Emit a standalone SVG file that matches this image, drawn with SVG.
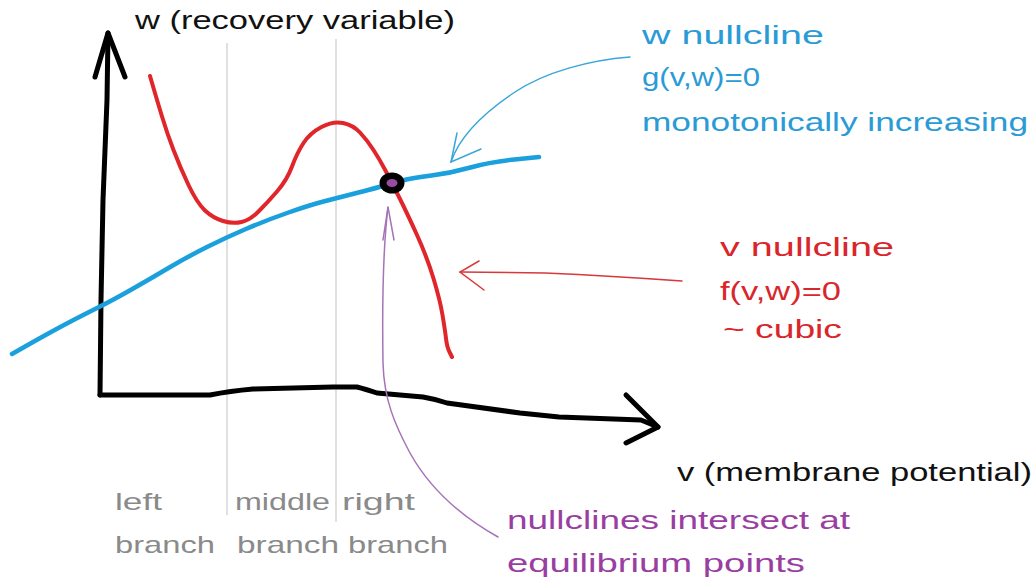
<svg xmlns="http://www.w3.org/2000/svg" width="1034" height="586" viewBox="0 0 1034 586">
<style>
text{font-family:"Liberation Sans","DejaVu Sans",sans-serif;font-size:25px}
.k{fill:#111}.b{fill:#2a9bd6}.r{fill:#d9262b}.p{fill:#9a3fa2}.g{fill:#8a8a8a;font-size:24px}
.axis{fill:none;stroke:#000;stroke-width:5;stroke-linecap:round;stroke-linejoin:round}
.guide{fill:none;stroke:#cfcfcf;stroke-width:1.3}
.red{fill:none;stroke:#e0262a;stroke-width:4;stroke-linecap:round;stroke-linejoin:round}
.blue{fill:none;stroke:#1aa0dc;stroke-width:4.5;stroke-linecap:round;stroke-linejoin:round}
.thinb{fill:none;stroke:#3aa6da;stroke-width:1.5;stroke-linecap:round}
.thinr{fill:none;stroke:#d9383a;stroke-width:1.5;stroke-linecap:round}
.thinp{fill:none;stroke:#a672b8;stroke-width:1.5;stroke-linecap:round}
</style>
<g id="guides">
<line class="guide" x1="227" y1="43" x2="227" y2="515"/>
<line class="guide" x1="336" y1="39" x2="336" y2="522"/>
</g>
<g id="axes">
<path class="axis" d="M100,395 L101,300 L103,200 L107,100 L108,33"/>
<path class="axis" d="M95,77 L108,33 L125,77"/>
<path class="axis" d="M100,395 L210,395 Q230,391 253,389 L333,387 L357,387 Q365,389 377,393 L423,397 Q435,399 447,403 L520,413 L559,417 L641,420 L658,427"/>
<path class="axis" d="M626,395 L658,427 L626,443"/>
</g>
<g id="w-nullcline">
<path class="blue" d="M12,354 L22.5,348 Q33,342 46.5,334.5 Q60,327 73.5,320 Q87,313 100,306.5 Q113,300 131.5,289.5 Q150,279 168.5,268 Q187,257 207,247 Q227,237 247,228.5 Q267,220 288.5,212.5 Q310,205 323.5,201.5 Q337,198 358.5,192.5 Q380,187 386,185 Q392,183 402,180.5 Q412,178 431.5,175.5 Q451,173 470.5,167.5 Q490,162 514.5,159.5 L539,157"/>
</g>
<g id="v-nullcline">
<path class="red" d="M150,76 L153.5,88 Q157,100 162,116.5 Q167,133 173.5,150 Q180,167 188.5,185 Q197,203 205,210.5 Q213,218 223,221 Q233,224 241.5,222 Q250,220 258.5,211.5 Q267,203 277,191.5 Q287,180 292,166.5 Q297,153 303.5,143 Q310,133 321.5,127 Q333,121 343,123 Q353,125 360,132.5 Q367,140 373.5,150 Q380,160 386,171.5 Q392,183 399.5,198 Q407,213 417,235 Q427,257 433.5,278.5 Q440,300 442.5,315 Q445,330 446,338.5 Q447,347 449.5,352 L452,357"/>
</g>
<g id="equilibrium">
<ellipse cx="392" cy="183" rx="12.5" ry="10.5" fill="#000"/>
<ellipse cx="392" cy="183" rx="5.5" ry="4" fill="#9b4aa6"/>
</g>
<g id="connectors">
<path class="thinb" d="M630,57 C590,60 545,72 515,92 C485,112 460,135 451,162"/>
<path class="thinb" d="M457,133 L451,162 L481,149"/>
<path class="thinr" d="M682,281 C640,278 590,275 545,273 L460,272"/>
<path class="thinr" d="M479,261 L460,272 L484,290"/>
<path class="thinp" d="M388,207 C384,240 382,300 383,363 C384,400 395,425 410,453 C425,480 450,510 498,537"/>
<path class="thinp" d="M383,240 L388,207 L394,240"/>
</g>
<g id="labels">
<text class="k" x="135" y="29" textLength="320" lengthAdjust="spacingAndGlyphs">w (recovery variable)</text>
<text class="b" x="642" y="44" textLength="182" lengthAdjust="spacingAndGlyphs">w nullcline</text>
<text class="b" x="642" y="86" textLength="118" lengthAdjust="spacingAndGlyphs">g(v,w)=0</text>
<text class="b" x="642" y="131" textLength="386" lengthAdjust="spacingAndGlyphs">monotonically increasing</text>
<text class="r" x="720" y="256" textLength="174" lengthAdjust="spacingAndGlyphs">v nullcline</text>
<text class="r" x="720" y="300" textLength="121" lengthAdjust="spacingAndGlyphs">f(v,w)=0</text>
<text class="r" x="723" y="338" textLength="119" lengthAdjust="spacingAndGlyphs">~ cubic</text>
<text class="k" x="677" y="481" textLength="355" lengthAdjust="spacingAndGlyphs">v (membrane potential)</text>
<text class="g" x="115" y="510" textLength="47" lengthAdjust="spacingAndGlyphs">left</text>
<text class="g" x="115" y="553" textLength="100" lengthAdjust="spacingAndGlyphs">branch</text>
<text class="g" x="235" y="510" textLength="95" lengthAdjust="spacingAndGlyphs">middle</text>
<text class="g" x="237" y="553" textLength="102" lengthAdjust="spacingAndGlyphs">branch</text>
<text class="g" x="342" y="510" textLength="73" lengthAdjust="spacingAndGlyphs">right</text>
<text class="g" x="348" y="553" textLength="100" lengthAdjust="spacingAndGlyphs">branch</text>
<text class="p" x="507" y="529" textLength="343" lengthAdjust="spacingAndGlyphs">nullclines intersect at</text>
<text class="p" x="507" y="572" textLength="298" lengthAdjust="spacingAndGlyphs">equilibrium points</text>
</g>
</svg>
